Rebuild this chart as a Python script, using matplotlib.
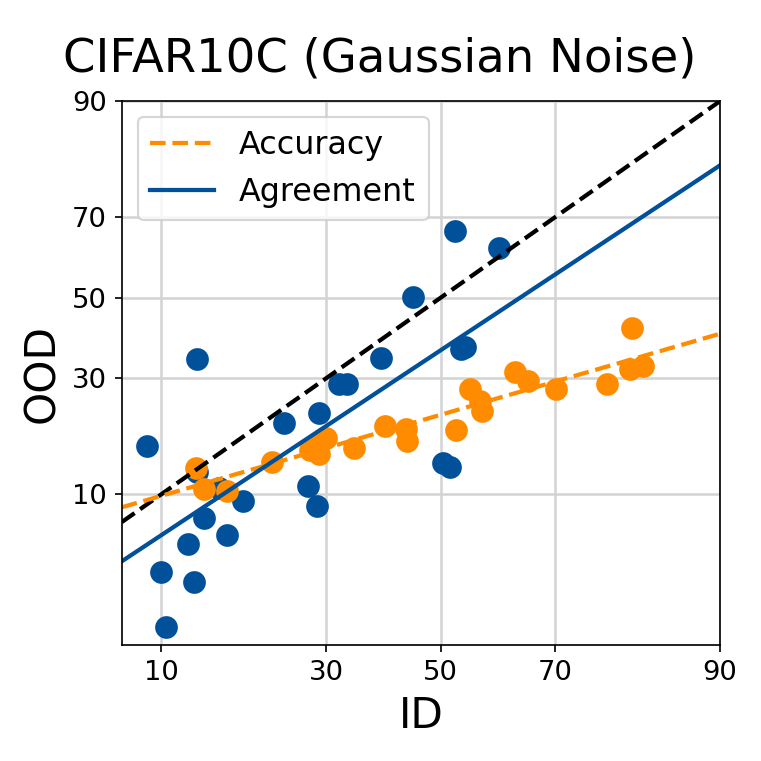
import matplotlib
matplotlib.use("Agg")

import numpy as np
import matplotlib.pyplot as plt
from statistics import NormalDist

# ID / OOD values (percent)
agr_id = [8.9, 13.2, 13.2, 13.9, 12.3, 10.0, 12.9, 10.4, 16.3, 18.2, 15.5, 23.6, 27.1,
          28.6, 28.9, 32.0, 33.3, 39.2, 44.9, 50.4, 51.8, 52.6, 53.8, 54.4, 60.5]
agr_ood = [16.7, 34.4, 12.8, 7.5, 5.4, 3.7, 3.2, 1.6, 6.1, 9.2, 10.7, 20.7, 11.0,
           8.7, 22.6, 28.6, 28.6, 34.6, 50.3, 14.1, 13.5, 66.8, 36.8, 37.3, 62.7]

acc_id = [13.1, 13.9, 16.4, 22.0, 27.4, 28.9, 30.0, 28.9, 34.5, 40.0, 43.6, 43.8,
          52.9, 55.3, 57.1, 57.6, 63.3, 65.5, 70.1, 77.7, 80.7, 82.4, 81.0]
acc_ood = [13.3, 10.6, 10.4, 14.2, 16.0, 15.4, 18.0, 17.3, 16.3, 20.1, 19.6, 17.5,
           19.4, 27.5, 25.0, 23.0, 31.5, 29.3, 27.5, 28.6, 32.2, 32.9, 42.3]

ticks = [10, 30, 50, 70, 90]

nd = NormalDist()
_ppf = np.vectorize(lambda p: nd.inv_cdf(p), otypes=[float])
_cdf = np.vectorize(lambda z: nd.cdf(z), otypes=[float])


def probit(v):
    v = np.clip(np.asarray(v, dtype=float) / 100.0, 1e-9, 1 - 1e-9)
    return _ppf(v)


def inv_probit(z):
    return _cdf(np.asarray(z, dtype=float)) * 100.0


blue = "#00509a"
orange = "#ff8c00"

fig = plt.figure(figsize=(5, 5), dpi=152.2)
ax = fig.add_axes([0.160, 0.152, 0.786, 0.715])
ax.set_xscale("function", functions=(probit, inv_probit))
ax.set_yscale("function", functions=(probit, inv_probit))

ax.scatter(agr_id, agr_ood, s=95, color=blue, zorder=2)
ax.scatter(acc_id, acc_ood, s=95, color=orange, zorder=2)

xlo, xhi = 7.17, 90
xs = np.linspace(xlo, xhi, 200)

# linear fits in probit space
ka, ba = np.polyfit(probit(acc_id), probit(acc_ood), 1)
kg, bg = np.polyfit(probit(agr_id), probit(agr_ood), 1)

ax.plot(xs, xs, "--", color="black", lw=2)
ax.plot(xs, inv_probit(ka * probit(xs) + ba), "--", color=orange, lw=2, label="Accuracy")
ax.plot(xs, inv_probit(kg * probit(xs) + bg), "-", color=blue, lw=2, label="Agreement")

ax.set_xlim(xlo, xhi)
ax.set_ylim(1.17, 90)
ax.set_xticks(ticks)
ax.set_yticks(ticks)
ax.set_xticklabels([str(t) for t in ticks])
ax.set_yticklabels([str(t) for t in ticks])
ax.minorticks_off()
ax.tick_params(labelsize=13)
ax.grid(True, color="#d3d3d3", lw=1.2)
ax.set_axisbelow(True)

ax.set_xlabel("ID", fontsize=20)
ax.set_ylabel("OOD", fontsize=20)
ax.set_title("CIFAR10C (Gaussian Noise)", fontsize=22, pad=14, x=0.431)
ax.legend(loc="upper left", fontsize=15)

fig.savefig("out.png", dpi=152.2)
